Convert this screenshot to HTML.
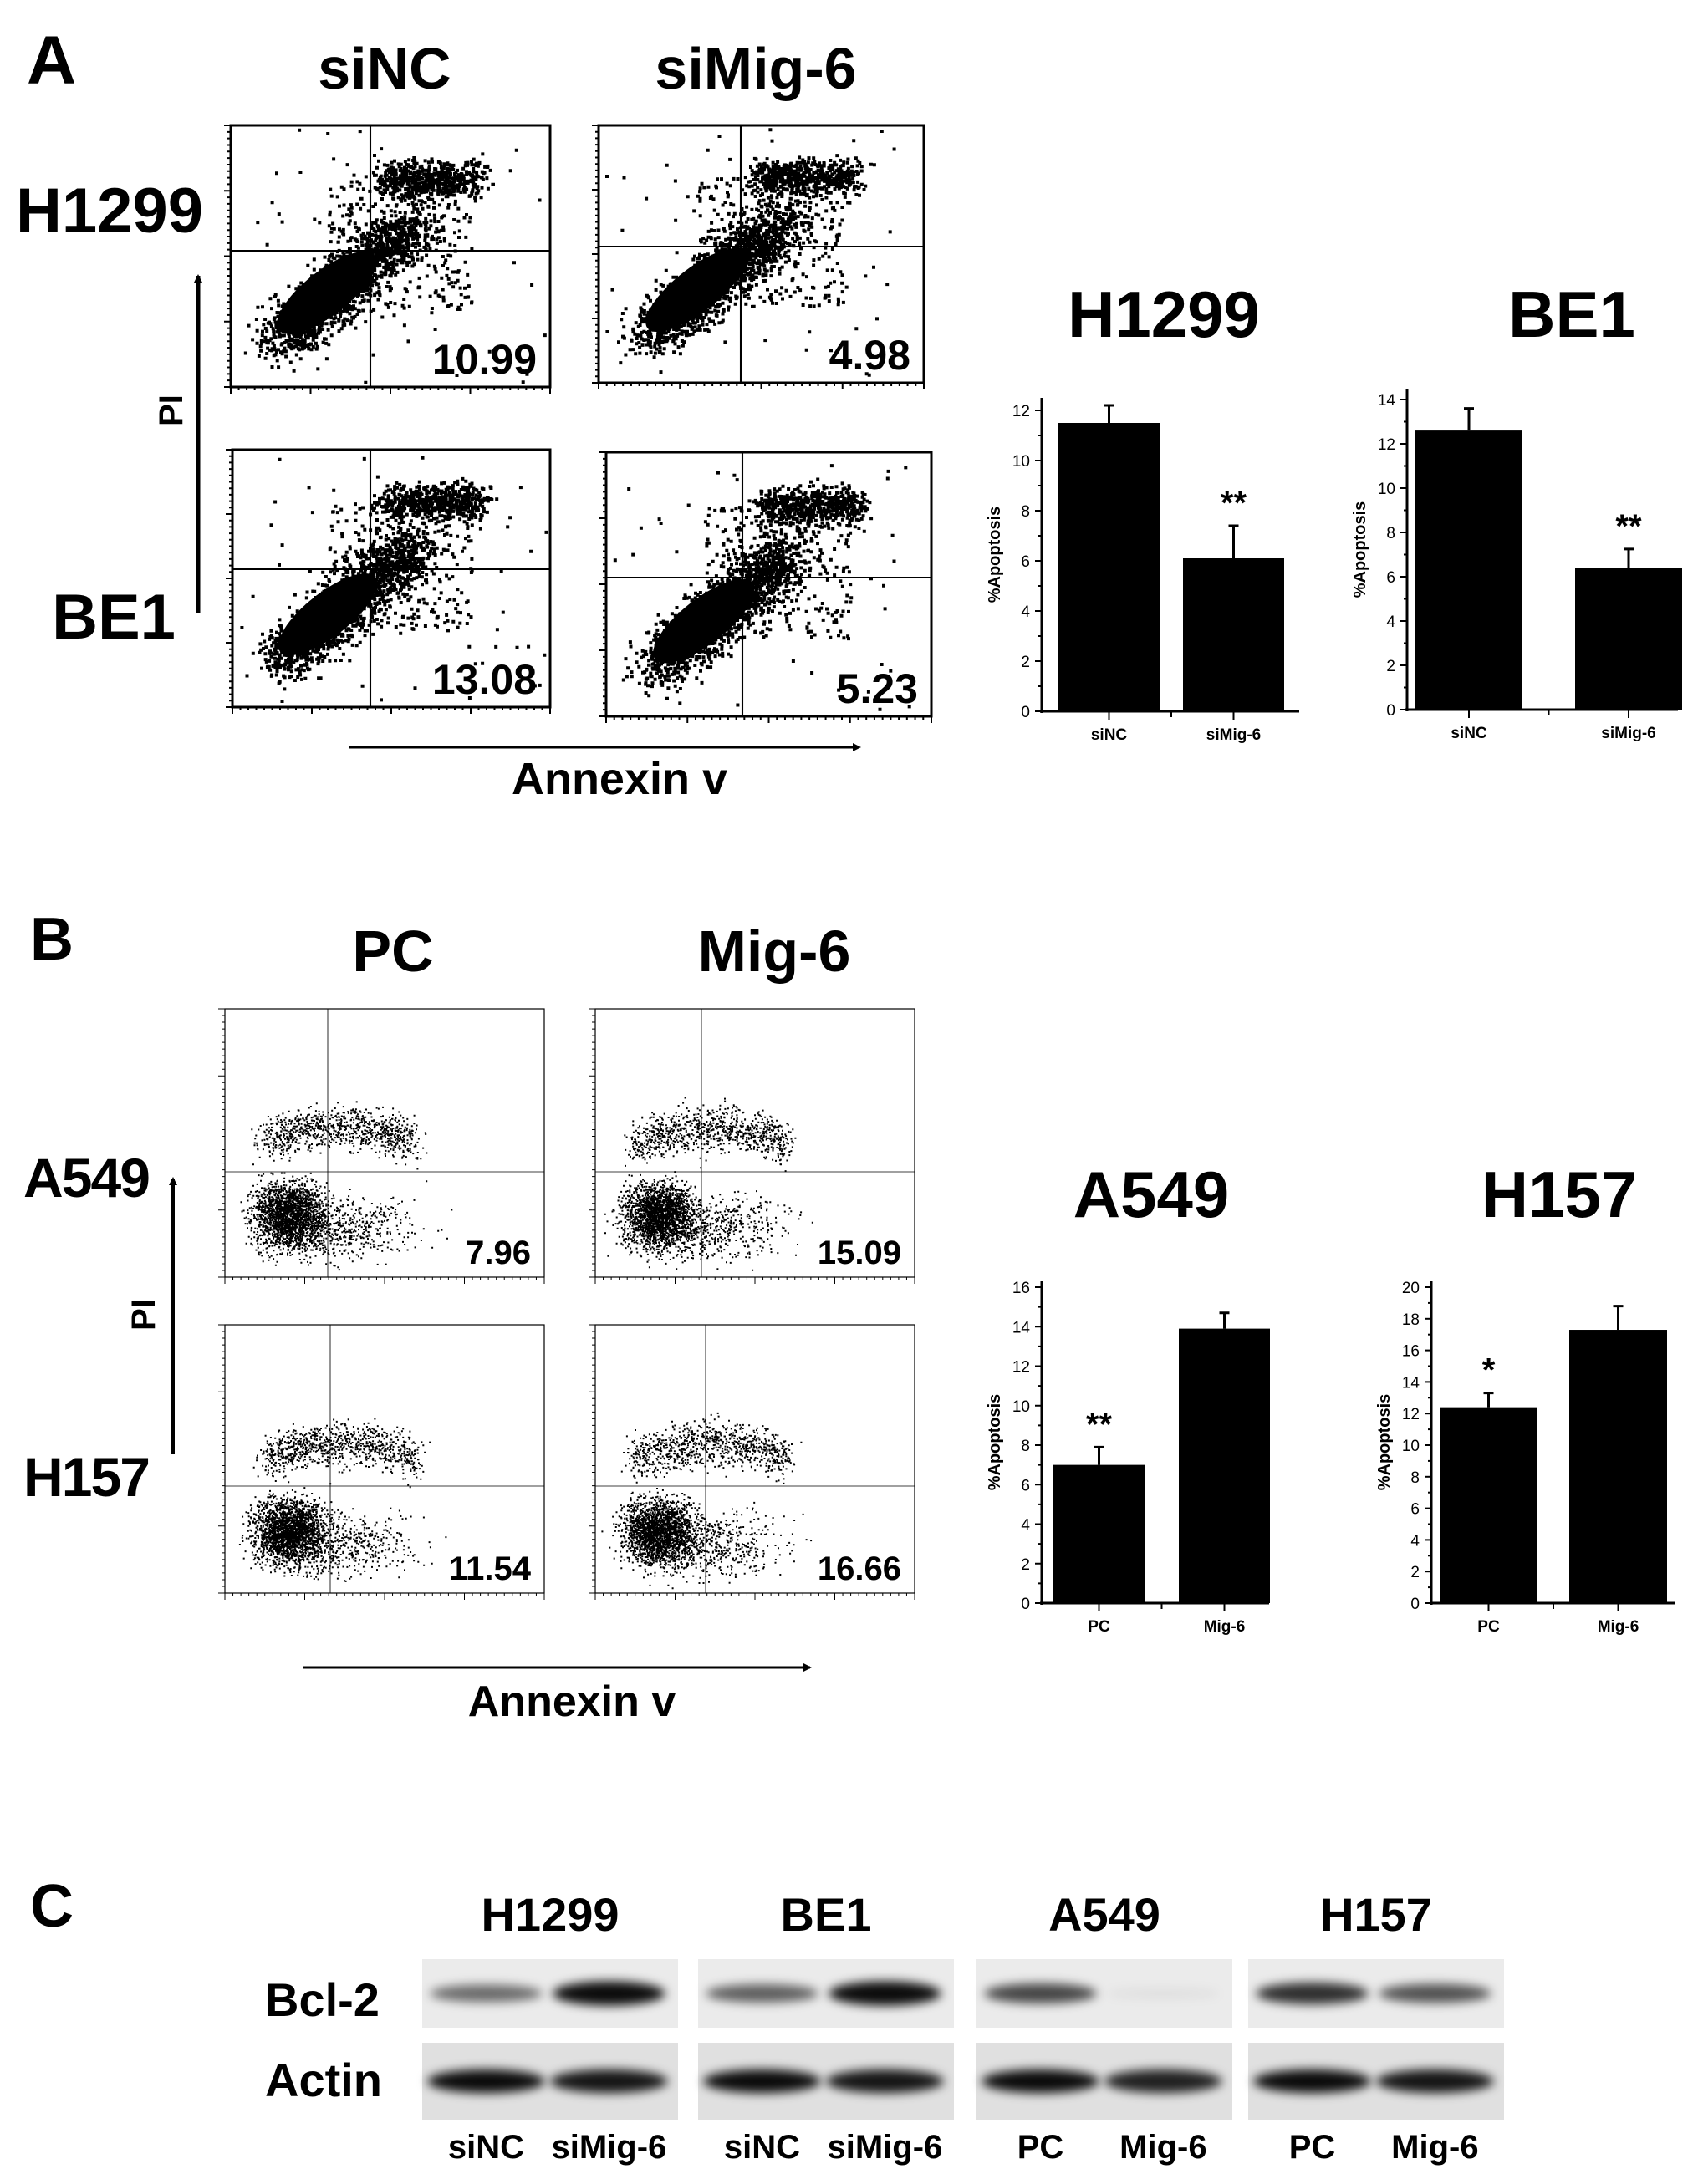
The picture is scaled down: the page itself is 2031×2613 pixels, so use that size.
<!DOCTYPE html>
<html><head><meta charset="utf-8">
<style>
html,body{margin:0;padding:0;background:#fff;}
svg{display:block;font-family:"Liberation Sans",Arial,sans-serif;}
</style></head>
<body>
<svg id="fig" width="2031" height="2613" viewBox="0 0 2031 2613" xmlns="http://www.w3.org/2000/svg">
<defs>
<filter id="blur6" x="-30%" y="-100%" width="160%" height="300%"><feGaussianBlur stdDeviation="6"/></filter>
<marker id="arr" markerWidth="10" markerHeight="10" refX="8" refY="5" orient="auto" markerUnits="userSpaceOnUse"><path d="M0,0 L10,5 L0,10 z" fill="#000"/></marker>
</defs>
<g font-weight="bold" fill="#000">
<text x="32" y="100" font-size="82">A</text>
<text x="460" y="106" font-size="70" text-anchor="middle">siNC</text>
<text x="904" y="106" font-size="70" text-anchor="middle">siMig-6</text>
<text x="131" y="278" font-size="76" text-anchor="middle">H1299</text>
<text x="136" y="764" font-size="76" text-anchor="middle">BE1</text>
<text transform="translate(218,491) rotate(-90)" font-size="40" text-anchor="middle">PI</text>
<text x="741" y="950" font-size="54" text-anchor="middle">Annexin v</text>

<text x="36" y="1148" font-size="72">B</text>
<text x="470" y="1162" font-size="70" text-anchor="middle">PC</text>
<text x="926" y="1162" font-size="70" text-anchor="middle">Mig-6</text>
<text x="104" y="1432" font-size="66" text-anchor="middle" textLength="152">A549</text>
<text x="104" y="1790" font-size="66" text-anchor="middle" textLength="152">H157</text>
<text transform="translate(185,1573) rotate(-90)" font-size="40" text-anchor="middle">PI</text>
<text x="684" y="2053" font-size="52" text-anchor="middle">Annexin v</text>

<text x="36" y="2305" font-size="72">C</text>
</g>
<line x1="237" y1="733" x2="237" y2="330" stroke="#000" stroke-width="5" marker-end="url(#arr)"/>
<line x1="418" y1="894" x2="1028" y2="894" stroke="#000" stroke-width="3" marker-end="url(#arr)"/>
<line x1="207" y1="1740" x2="207" y2="1410" stroke="#000" stroke-width="4" marker-end="url(#arr)"/>
<line x1="363" y1="1995" x2="969" y2="1995" stroke="#000" stroke-width="3" marker-end="url(#arr)"/>
<g id="flow"></g>
<g id="charts"></g>
<g id="blots"></g>
</svg>
<script>
const NS = "http://www.w3.org/2000/svg";
function mk(tag, attrs, parent){ const e=document.createElementNS(NS,tag); for(const k in attrs) e.setAttribute(k,attrs[k]); if(parent) parent.appendChild(e); return e; }

/* ---------- bar chart data ---------- */
const h1299Cats = ["siNC","siMig-6"];
const h1299Vals = [11.5, 6.1];
const h1299Errs = [0.7, 1.3];
const h1299Sig = ["", "**"];
const h1299Ticks = [0,2,4,6,8,10,12];

const be1Cats = ["siNC","siMig-6"];
const be1Vals = [12.6, 6.4];
const be1Errs = [1.0, 0.85];
const be1Sig = ["", "**"];
const be1Ticks = [0,2,4,6,8,10,12,14];

const a549Cats = ["PC","Mig-6"];
const a549Vals = [7.0, 13.9];
const a549Errs = [0.9, 0.8];
const a549Sig = ["**", ""];
const a549Ticks = [0,2,4,6,8,10,12,14,16];

const h157Cats = ["PC","Mig-6"];
const h157Vals = [12.4, 17.3];
const h157Errs = [0.9, 1.5];
const h157Sig = ["*", ""];
const h157Ticks = [0,2,4,6,8,10,12,14,16,18,20];

const flowPercents = ["10.99","4.98","13.08","5.23","7.96","15.09","11.54","16.66"];
const blotLines = ["H1299","BE1","A549","H157"];
const blotLanes = ["siNC","siMig-6","siNC","siMig-6","PC","Mig-6","PC","Mig-6"];
const bcl2Intensity = [0.55,0.95,0.6,0.95,0.7,0.06,0.8,0.65];
const actinIntensity = [0.95,0.9,0.95,0.9,0.95,0.85,0.95,0.9];

const charts = document.getElementById("charts");
function drawChart(name, cats, vals, errs, sig, ticks, L){
  const g = mk("g",{},charts);
  
  
  const maxT = ticks[ticks.length-1];
  const y = v => L.y0 - (L.y0 - L.yMax) * v / maxT;
  const bandX = i => L.ax + L.pad + i*L.step;
  const t = mk("text",{x:L.titleX,y:L.titleY,"font-size":78,"font-weight":"bold","text-anchor":"middle"},g);
  t.textContent = L.title;
  
  
  cats.forEach((c,i)=>{
    const x1 = bandX(i), top = y(vals[i]);
    const b = mk("rect",{x:x1,y:top,width:L.bw,height:L.y0-top,fill:"#000"},g);
    
    
    const cx = x1 + L.bw/2, et = y(vals[i]+errs[i]);
    const e = mk("path",{d:`M${cx},${top} V${et} M${cx-6},${et} H${cx+6}`,stroke:"#000","stroke-width":3,fill:"none"},g);
    
    
    mk("line",{x1:cx,y1:L.y0,x2:cx,y2:L.y0+10,stroke:"#000","stroke-width":2},g);
    const lab = mk("text",{x:cx,y:L.y0+34,"font-size":19,"font-weight":"bold","text-anchor":"middle"},g);
    lab.textContent = c;
    
    
    if(sig[i]){
      const s = mk("text",{x:cx,y:et-14,"font-size":40,"font-weight":"bold","text-anchor":"middle"},g);
      s.textContent = sig[i];
      
      
    }
  });
  mk("line",{x1:L.ax,y1:L.yTop,x2:L.ax,y2:L.y0+2,stroke:"#000","stroke-width":3},g);
  mk("line",{x1:L.ax-2,y1:L.y0,x2:L.xEnd,y2:L.y0,stroke:"#000","stroke-width":3},g);
  mk("line",{x1:(bandX(0)+L.bw+bandX(1))/2,y1:L.y0,x2:(bandX(0)+L.bw+bandX(1))/2,y2:L.y0+7,stroke:"#000","stroke-width":2},g);
  for(let v=0; v<=maxT; v+=1){
    const major = ticks.includes(v);
    mk("line",{x1:L.ax-(major?8:4),y1:y(v),x2:L.ax,y2:y(v),stroke:"#000","stroke-width":2},g);
  }
  ticks.forEach(v=>{
    const tx = mk("text",{x:L.ax-14,y:y(v)+7,"font-size":19,"text-anchor":"end"},g);
    tx.textContent = v;
    
    
  });
  const yl = mk("text",{transform:`translate(${L.ax-50},${(L.y0+L.yTop)/2}) rotate(-90)`,"font-size":20,"font-weight":"bold","text-anchor":"middle"},g);
  yl.textContent = "%Apoptosis";
  
  
}
drawChart("h1299",h1299Cats,h1299Vals,h1299Errs,h1299Sig,h1299Ticks,{ax:1246,y0:851,yMax:491,yTop:476,pad:20,bw:121,step:149,xEnd:1554,title:"H1299",titleX:1392,titleY:403});
drawChart("be1",be1Cats,be1Vals,be1Errs,be1Sig,be1Ticks,{ax:1683,y0:849,yMax:478,yTop:466,pad:10,bw:128,step:191,xEnd:2007,title:"BE1",titleX:1880,titleY:403});
drawChart("a549",a549Cats,a549Vals,a549Errs,a549Sig,a549Ticks,{ax:1246,y0:1918,yMax:1540,yTop:1533,pad:14,bw:109,step:150,xEnd:1518,title:"A549",titleX:1377,titleY:1456});
drawChart("h157",h157Cats,h157Vals,h157Errs,h157Sig,h157Ticks,{ax:1712,y0:1918,yMax:1540,yTop:1533,pad:10,bw:117,step:155,xEnd:2003,title:"H157",titleX:1865,titleY:1456});

/* ---------- flow cytometry plots (texture) ---------- */
const flow = document.getElementById("flow");
let seed = 12345;
function rnd(){ seed = (seed*1103515245 + 12345) % 2147483648; return seed/2147483648; }
function gauss(){ return (rnd()+rnd()+rnd()+rnd()-2)/0.58; }
const flowBoxes = [
 {n:"h1299-sinc",x:276,y:150,w:382,h:313,vx:443,hy:300,s:4,big:1},
 {n:"h1299-simig6",x:716,y:150,w:389,h:308,vx:886,hy:295,s:4,big:1},
 {n:"be1-sinc",x:278,y:538,w:380,h:308,vx:443,hy:681,s:4,big:1},
 {n:"be1-simig6",x:725,y:541,w:389,h:316,vx:888,hy:691,s:4,big:1},
 {n:"a549-pc",x:269,y:1207,w:382,h:321,vx:392,hy:1402,s:2,big:0},
 {n:"a549-mig6",x:712,y:1207,w:382,h:321,vx:839,hy:1402,s:2,big:0},
 {n:"h157-pc",x:269,y:1585,w:382,h:321,vx:395,hy:1778,s:2,big:0},
 {n:"h157-mig6",x:712,y:1585,w:382,h:321,vx:844,hy:1778,s:2,big:0}
];
flowBoxes.forEach((b,i)=>{
  const g = mk("g",{},flow);
  
  
  const sw = b.big?3:1.2;
  const fx = b.x, fy = b.y, W=b.w, H=b.h;
  let pts = "";
  const add=(px,py)=>{ if(px>fx+3&&px<fx+W-6&&py>fy+3&&py<fy+H-6) pts+=`M${px.toFixed(1)},${py.toFixed(1)}h${b.s}v${b.s}h-${b.s}z`; };
  if(b.big){
    const cx = fx+W*0.30, cy = fy+H*0.64;
    mk("ellipse",{cx:cx,cy:cy,rx:W*0.19,ry:H*0.085,fill:"#000",transform:`rotate(-38 ${cx} ${cy})`},g);
    for(let k=0;k<1500;k++){
      const t=rnd(); add(fx+W*(0.15+0.42*t)+gauss()*W*0.05, fy+H*(0.82-0.45*t)+gauss()*H*0.05);
    }
    for(let k=0;k<300;k++){ add(fx+W*(0.3+0.45*rnd()), fy+H*(0.2+0.5*rnd())); }
    for(let k=0;k<550;k++){ add(fx+W*(0.48+0.3*rnd())+gauss()*W*0.025, fy+H*0.2+gauss()*H*0.035); }
    for(let k=0;k<60;k++){ add(fx+W*rnd(), fy+H*rnd()); }
  } else {
    for(let k=0;k<2000;k++){ add(fx+W*0.20+gauss()*W*0.055, fy+H*0.77+gauss()*H*0.06); }
    for(let k=0;k<600;k++){ add(fx+W*0.35+gauss()*W*0.12, fy+H*0.82+gauss()*H*0.06); }
    for(let k=0;k<900;k++){
      const t=rnd(); add(fx+W*(0.12+0.48*t)+gauss()*W*0.02, fy+H*(0.50-0.06*Math.sin(Math.PI*t))+gauss()*H*0.04);
    }
  }
  mk("path",{d:pts,fill:"#000"},g);
  mk("rect",{x:fx,y:fy,width:W,height:H,fill:"none",stroke:"#000","stroke-width":sw},g);
  mk("line",{x1:b.vx,y1:fy,x2:b.vx,y2:fy+H,stroke:"#000","stroke-width":sw*0.7},g);
  mk("line",{x1:fx,y1:b.hy,x2:fx+W,y2:b.hy,stroke:"#000","stroke-width":sw*0.7},g);
  let tk="";
  for(let k=0;k<=40;k++){ const xx=fx+W*k/40; tk+=`M${xx},${fy+H}v${k%10==0?8:4}`; const yy=fy+H*k/40; tk+=`M${fx},${yy}h-${k%10==0?8:4}`; }
  mk("path",{d:tk,stroke:"#000","stroke-width":b.big?2:1},g);
  const t = mk("text",{x:fx+W-16,y:fy+H-16,"font-size":b.big?50:40,"font-weight":"bold","text-anchor":"end"},g);
  t.textContent = flowPercents[i];
  
  
});

/* ---------- western blots ---------- */
const blots = document.getElementById("blots");
const groupX = [505,835,1168,1493];
const groupW = 306;
blotLines.forEach((name,gi)=>{
  const t = mk("text",{x:groupX[gi]+groupW/2,y:2310,"font-size":56,"font-weight":"bold","text-anchor":"middle"},blots);
  t.textContent = name;
  
  
  const g = mk("g",{},blots);
  
  
  mk("rect",{x:groupX[gi],y:2344,width:groupW,height:82,fill:"#ebebeb"},g);
  mk("rect",{x:groupX[gi],y:2444,width:groupW,height:92,fill:"#e0e0e0"},g);
  for(let l=0;l<2;l++){
    const li = gi*2+l;
    const cx = groupX[gi] + groupW*(l===0?0.25:0.73);
    const bi = bcl2Intensity[li], ai = actinIntensity[li];
    const b1 = mk("ellipse",{cx:cx,cy:2385,rx:groupW*0.22,ry:5+10*bi,fill:"#000","fill-opacity":bi,filter:"url(#blur6)"},g);
    
    
    const b2 = mk("ellipse",{cx:cx,cy:2490,rx:groupW*0.23,ry:14,fill:"#000","fill-opacity":ai,filter:"url(#blur6)"},g);
    
    
    const lab = mk("text",{x:cx,y:2582,"font-size":40,"font-weight":"bold","text-anchor":"middle"},blots);
    lab.textContent = blotLanes[li];
    
    
  }
});
const bl = mk("text",{x:317,y:2412,"font-size":56,"font-weight":"bold"},blots);
bl.textContent = "Bcl-2";


const al = mk("text",{x:317,y:2508,"font-size":56,"font-weight":"bold"},blots);
al.textContent = "Actin";


</script>
</body></html>
